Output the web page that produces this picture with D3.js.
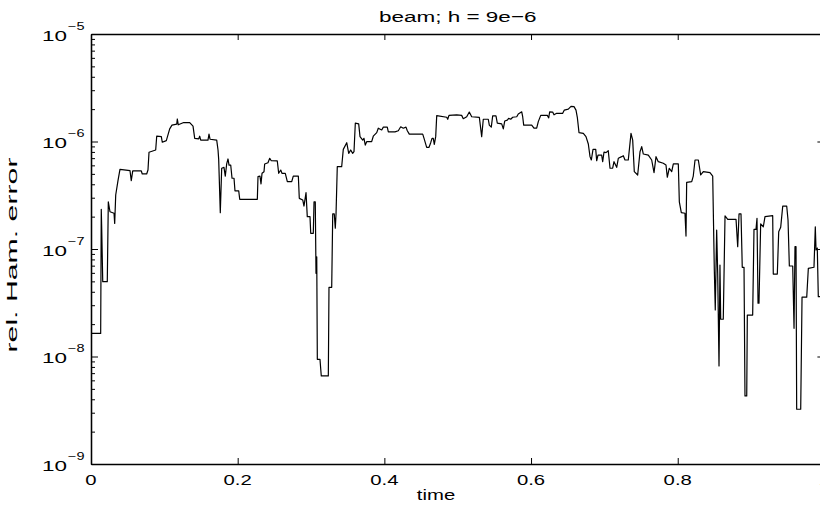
<!DOCTYPE html>
<html>
<head>
<meta charset="utf-8">
<script src="https://cdn.jsdelivr.net/npm/d3@7"></script>
<style>
  body { margin: 0; background: #fff; }
  text { font-family: "Liberation Sans", Arial, sans-serif; fill: #000; }
</style>
</head>
<body>
<div id="chart"></div>
<script>
var svgWidth = 820;
var svgHeight = 511;

var margin = {top: 34, left: 91};
var width = 733.4;
var height = 430;

// data
var timeValues = [
  0.0004, 0.0132, 0.0140, 0.0146, 0.0160, 0.0222, 0.0236, 0.0259, 0.0314, 0.0323,
  0.0337, 0.0368, 0.0395, 0.0532, 0.0549, 0.0569, 0.0686, 0.0699, 0.0759, 0.0777,
  0.0791, 0.0882, 0.0896, 0.0959, 0.0972, 0.1027, 0.1073, 0.1104, 0.1169, 0.1177,
  0.1190, 0.1264, 0.1346, 0.1391, 0.1414, 0.1469, 0.1482, 0.1496, 0.1595, 0.1609,
  0.1623, 0.1714, 0.1732, 0.1741, 0.1763, 0.1782, 0.1813, 0.1831, 0.1850, 0.1868,
  0.1882, 0.1905, 0.1923, 0.1950, 0.1963, 0.2014, 0.2028, 0.2268, 0.2277, 0.2304,
  0.2318, 0.2332, 0.2359, 0.2368, 0.2413, 0.2437, 0.2458, 0.2540, 0.2559, 0.2587,
  0.2604, 0.2649, 0.2677, 0.2737, 0.2758, 0.2827, 0.2840, 0.2887, 0.2904, 0.2932,
  0.2949, 0.2986, 0.2996, 0.3031, 0.3041, 0.3058, 0.3068, 0.3078, 0.3086, 0.3122,
  0.3140, 0.3236, 0.3245, 0.3282, 0.3296, 0.3317, 0.3331, 0.3341, 0.3358, 0.3418,
  0.3440, 0.3487, 0.3514, 0.3541, 0.3568, 0.3586, 0.3604, 0.3650, 0.3668, 0.3705,
  0.3722, 0.3740, 0.3759, 0.3827, 0.3849, 0.3896, 0.3917, 0.3964, 0.3986, 0.4040,
  0.4054, 0.4145, 0.4190, 0.4223, 0.4258, 0.4295, 0.4313, 0.4340, 0.4523, 0.4541,
  0.4577, 0.4609, 0.4632, 0.4650, 0.4667, 0.4681, 0.4700, 0.4714, 0.4850, 0.4864,
  0.4881, 0.4986, 0.5054, 0.5076, 0.5123, 0.5158, 0.5191, 0.5295, 0.5308, 0.5327,
  0.5349, 0.5417, 0.5431, 0.5458, 0.5477, 0.5522, 0.5540, 0.5600, 0.5622, 0.5641,
  0.5676, 0.5695, 0.5723, 0.5750, 0.5805, 0.5826, 0.5873, 0.5886, 0.5900, 0.6009,
  0.6040, 0.6077, 0.6099, 0.6132, 0.6222, 0.6241, 0.6254, 0.6295, 0.6313, 0.6350,
  0.6432, 0.6454, 0.6508, 0.6545, 0.6586, 0.6613, 0.6631, 0.6654, 0.6713, 0.6749,
  0.6781, 0.6804, 0.6822, 0.6845, 0.6882, 0.6895, 0.6913, 0.6963, 0.6977, 0.6995,
  0.7022, 0.7053, 0.7077, 0.7113, 0.7131, 0.7168, 0.7190, 0.7236, 0.7258, 0.7281,
  0.7326, 0.7363, 0.7386, 0.7408, 0.7454, 0.7486, 0.7509, 0.7531, 0.7599, 0.7645,
  0.7677, 0.7704, 0.7735, 0.7803, 0.7840, 0.7858, 0.7885, 0.7918, 0.7940, 0.8008,
  0.8022, 0.8049, 0.8099, 0.8113, 0.8122, 0.8191, 0.8212, 0.8236, 0.8281, 0.8313,
  0.8349, 0.8440, 0.8477, 0.8499, 0.8512, 0.8531, 0.8545, 0.8563, 0.8576, 0.8586,
  0.8621, 0.8645, 0.8682, 0.8795, 0.8818, 0.8836, 0.8863, 0.8880, 0.8904, 0.8917,
  0.8941, 0.8949, 0.9022, 0.9040, 0.9067, 0.9081, 0.9095, 0.9108, 0.9131, 0.9167,
  0.9190, 0.9295, 0.9303, 0.9358, 0.9377, 0.9404, 0.9432, 0.9486, 0.9504, 0.9522,
  0.9568, 0.9586, 0.9599, 0.9613, 0.9622, 0.9677, 0.9695, 0.9759, 0.9781, 0.9858,
  0.9876, 0.9886, 0.9903, 0.9917, 0.9940
];

var errorValues = [
  1.64e-8, 1.64e-8, 2.34e-7, 1.56e-7, 4.97e-8, 4.97e-8, 2.75e-7, 2.22e-7, 2.15e-7, 1.73e-7,
  3.18e-7, 4.32e-7, 5.51e-7, 5.35e-7, 4.32e-7, 5.32e-7, 5.32e-7, 4.99e-7, 4.99e-7, 5.43e-7,
  7.94e-7, 8.34e-7, 1.12e-6, 1.11e-6, 9.84e-7, 1.02e-6, 1.31e-6, 1.42e-6, 1.45e-6, 1.62e-6,
  1.43e-6, 1.50e-6, 1.50e-6, 1.39e-6, 1.07e-6, 1.06e-6, 1.12e-6, 1.03e-6, 1.03e-6, 1.17e-6,
  1.05e-6, 1.03e-6, 8.34e-7, 6.82e-7, 2.18e-7, 5.64e-7, 5.75e-7, 4.77e-7, 6.18e-7, 6.88e-7,
  6.04e-7, 6.04e-7, 4.55e-7, 4.55e-7, 3.48e-7, 3.48e-7, 2.90e-7, 2.90e-7, 4.71e-7, 4.77e-7,
  4.03e-7, 5.06e-7, 5.24e-7, 6.18e-7, 6.35e-7, 6.98e-7, 6.62e-7, 6.59e-7, 5.06e-7, 5.43e-7,
  5.06e-7, 5.06e-7, 4.23e-7, 4.23e-7, 4.77e-7, 4.77e-7, 2.96e-7, 2.86e-7, 2.51e-7, 3.34e-7,
  2.00e-7, 2.00e-7, 1.40e-7, 1.40e-7, 2.75e-7, 2.75e-7, 5.94e-8, 8.47e-8, 9.42e-9, 9.42e-9,
  6.59e-9, 6.59e-9, 4.40e-8, 4.40e-8, 2.12e-7, 2.12e-7, 1.56e-7, 2.12e-7, 5.83e-7, 5.83e-7,
  8.45e-7, 9.75e-7, 7.76e-7, 8.34e-7, 7.76e-7, 8.04e-7, 1.48e-6, 1.46e-6, 1.11e-6, 1.03e-6,
  1.07e-6, 9.27e-7, 9.96e-7, 9.96e-7, 1.12e-6, 1.21e-6, 1.33e-6, 1.28e-6, 1.36e-6, 1.36e-6,
  1.23e-6, 1.23e-6, 1.26e-6, 1.37e-6, 1.33e-6, 1.36e-6, 1.26e-6, 1.17e-6, 1.17e-6, 1.07e-6,
  8.83e-7, 8.83e-7, 9.75e-7, 1.07e-6, 1.07e-6, 9.42e-7, 1.11e-6, 1.74e-6, 1.68e-6, 1.61e-6,
  1.75e-6, 1.77e-6, 1.75e-6, 1.63e-6, 1.70e-6, 1.88e-6, 1.70e-6, 1.68e-6, 1.42e-6, 1.11e-6,
  1.61e-6, 1.61e-6, 1.42e-6, 1.36e-6, 1.73e-6, 1.73e-6, 1.48e-6, 1.46e-6, 1.31e-6, 1.55e-6,
  1.58e-6, 1.64e-6, 1.61e-6, 1.68e-6, 1.70e-6, 1.80e-6, 1.89e-6, 1.70e-6, 1.42e-6, 1.42e-6,
  1.33e-6, 1.33e-6, 1.53e-6, 1.75e-6, 1.75e-6, 1.66e-6, 1.89e-6, 1.88e-6, 1.77e-6, 1.83e-6,
  1.83e-6, 1.96e-6, 2.00e-6, 2.12e-6, 2.11e-6, 1.96e-6, 1.68e-6, 1.21e-6, 1.19e-6, 1.11e-6,
  9.48e-7, 7.23e-7, 6.73e-7, 8.45e-7, 8.45e-7, 6.62e-7, 7.48e-7, 7.48e-7, 6.49e-7, 7.98e-7,
  7.88e-7, 8.21e-7, 5.64e-7, 5.64e-7, 6.49e-7, 5.75e-7, 6.98e-7, 7.23e-7, 7.38e-7, 6.73e-7,
  6.73e-7, 1.19e-6, 1.03e-6, 5.24e-7, 4.88e-7, 8.04e-7, 8.95e-7, 7.65e-7, 7.48e-7, 6.73e-7,
  5.13e-7, 7.23e-7, 6.49e-7, 6.27e-7, 6.04e-7, 4.65e-7, 5.64e-7, 5.24e-7, 6.18e-7, 6.18e-7,
  2.75e-7, 2.18e-7, 2.15e-7, 1.32e-7, 4.17e-7, 4.23e-7, 4.77e-7, 6.73e-7, 6.73e-7, 4.88e-7,
  5.24e-7, 5.13e-7, 4.77e-7, 6.38e-8, 2.71e-8, 1.50e-7, 5.94e-8, 8.17e-9, 7.10e-8, 2.22e-8,
  2.22e-8, 2.03e-7, 1.89e-7, 1.89e-7, 1.05e-7, 2.12e-7, 2.12e-7, 6.76e-8, 6.76e-8, 4.30e-9,
  4.30e-9, 2.43e-8, 2.43e-8, 1.52e-7, 1.52e-7, 1.93e-7, 3.13e-8, 3.13e-8, 1.71e-7, 1.61e-7,
  2.00e-7, 2.04e-7, 5.85e-8, 5.85e-8, 1.45e-7, 1.59e-7, 2.51e-7, 2.51e-7, 1.86e-7, 6.95e-8,
  6.95e-8, 1.83e-8, 1.05e-7, 1.05e-7, 3.23e-9, 3.23e-9, 3.56e-8, 3.56e-8, 6.61e-8, 6.76e-8,
  1.61e-7, 9.79e-8, 1.02e-7, 3.60e-8, 3.60e-8
];

var xTicks = [0, 0.2, 0.4, 0.6, 0.8, 1];
var xTickLabels = ["0", "0.2", "0.4", "0.6", "0.8", "1"];
var yDecades = [1e-9, 1e-8, 1e-7, 1e-6, 1e-5];
var yExponents = ["\u22129", "\u22128", "\u22127", "\u22126", "\u22125"];

var titleText = "beam; h = 9e\u22126";
var xLabelText = "time";
var yLabelText = "rel. Ham. error";

var stretch = 1.45;

var svg = d3.select("#chart")
  .append("svg")
  .attr("width", svgWidth)
  .attr("height", svgHeight);

var chartGroup = svg.append("g")
  .attr("transform", `translate(${margin.left}, ${margin.top})`);

var xScale = d3.scaleLinear().domain([0, 1]).range([0, width]);
var yScale = d3.scaleLog().domain([1e-9, 1e-5]).range([height, 0]);

// minor ticks at 2..9 x each decade
var yMinor = [];
yDecades.slice(0, -1).forEach(function(d) {
  for (var k = 2; k <= 9; k++) yMinor.push(d * k);
});

function styleAxis(g) {
  g.selectAll("path").attr("stroke", "#000").attr("stroke-width", 1.3);
  g.selectAll("line").attr("stroke", "#000").attr("stroke-width", 1);
  g.selectAll("text").remove();
}

// bottom + top
chartGroup.append("g")
  .attr("transform", `translate(0, ${height})`)
  .call(d3.axisBottom(xScale).tickValues(xTicks).tickSize(-6).tickSizeOuter(0))
  .call(styleAxis);
chartGroup.append("g")
  .call(d3.axisTop(xScale).tickValues(xTicks).tickSize(-6).tickSizeOuter(0))
  .call(styleAxis);

// left + right, majors then minors
chartGroup.append("g")
  .call(d3.axisLeft(yScale).tickValues(yDecades).tickSize(-7).tickSizeOuter(0))
  .call(styleAxis);
chartGroup.append("g")
  .call(d3.axisLeft(yScale).tickValues(yMinor).tickSize(-4).tickSizeOuter(0))
  .call(styleAxis);
chartGroup.append("g")
  .attr("transform", `translate(${width}, 0)`)
  .call(d3.axisRight(yScale).tickValues(yDecades).tickSize(-7).tickSizeOuter(0))
  .call(styleAxis);
chartGroup.append("g")
  .attr("transform", `translate(${width}, 0)`)
  .call(d3.axisRight(yScale).tickValues(yMinor).tickSize(-4).tickSizeOuter(0))
  .call(styleAxis);

// x tick labels
chartGroup.append("g").selectAll("text")
  .data(xTicks)
  .enter()
  .append("text")
  .attr("transform", d => `translate(${xScale(d)}, ${height + 20.5}) scale(${stretch}, 1)`)
  .attr("text-anchor", "middle")
  .attr("font-size", 14)
  .text((d, i) => xTickLabels[i]);

// y tick labels: 10 with superscript exponent
var yLab = chartGroup.append("g").selectAll("g")
  .data(yDecades)
  .enter()
  .append("g");
yLab.append("text")
  .attr("transform", d => `translate(${-24}, ${yScale(d) + 6.5}) scale(${stretch}, 1)`)
  .attr("text-anchor", "end")
  .attr("font-size", 15.5)
  .text("10");
yLab.append("text")
  .attr("transform", d => `translate(${-23}, ${yScale(d) - 4.5}) scale(${stretch}, 1)`)
  .attr("text-anchor", "start")
  .attr("font-size", 10)
  .text((d, i) => yExponents[i]);

// the curve
var line = d3.line()
  .x((d, i) => xScale(timeValues[i]))
  .y(d => yScale(d));

chartGroup.append("path")
  .datum(errorValues)
  .attr("fill", "none")
  .attr("stroke", "#000")
  .attr("stroke-width", 1.2)
  .attr("stroke-linejoin", "round")
  .attr("d", line);

// title and axis labels
chartGroup.append("text")
  .attr("transform", `translate(${width / 2}, -12) scale(${stretch}, 1)`)
  .attr("text-anchor", "middle")
  .attr("font-size", 15.5)
  .text(titleText);

chartGroup.append("text")
  .attr("transform", `translate(345, ${height + 36}) scale(${stretch}, 1)`)
  .attr("text-anchor", "middle")
  .attr("font-size", 14)
  .text(xLabelText);

chartGroup.append("text")
  .attr("transform", `translate(-74, ${height / 2 + 6}) rotate(-90)`)
  .attr("text-anchor", "middle")
  .attr("font-size", 15)
  .attr("textLength", 195)
  .attr("lengthAdjust", "spacingAndGlyphs")
  .text(yLabelText);
</script>
</body>
</html>
